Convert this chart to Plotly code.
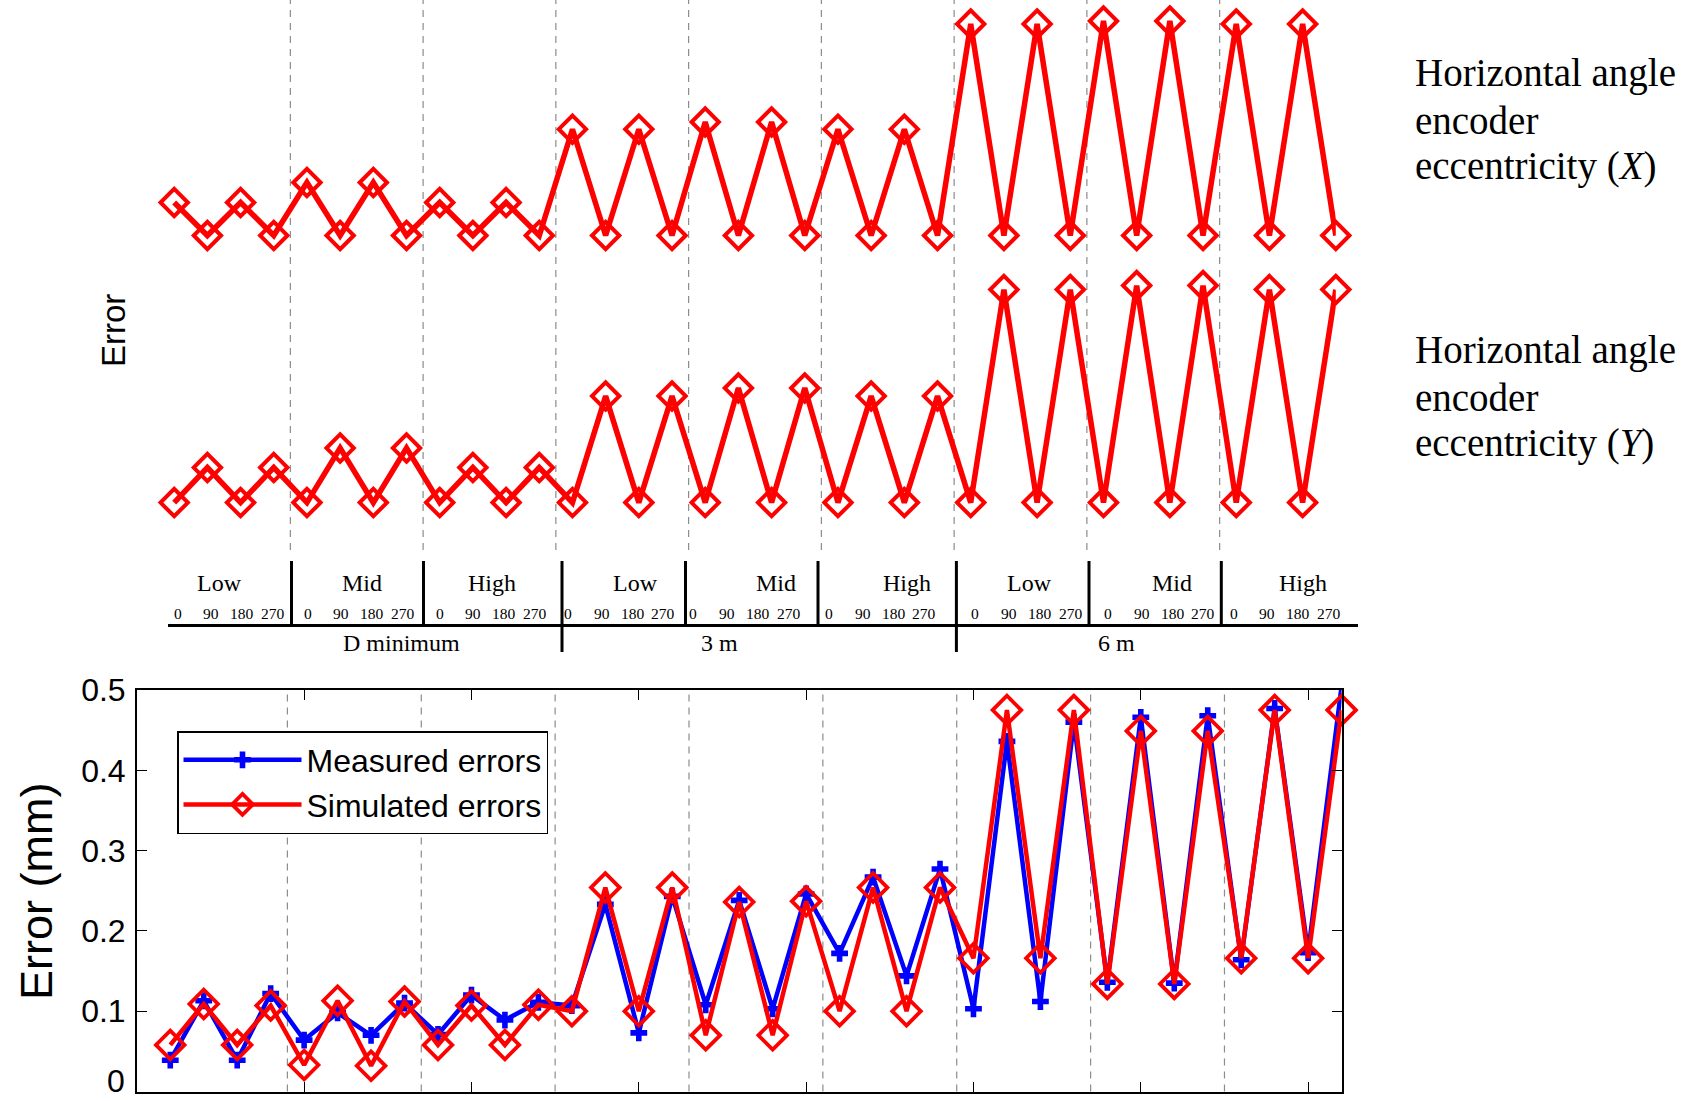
import plotly.graph_objects as go

W, H = 1702, 1101

# ---------------- data ----------------
idx = list(range(1, 37))

# top panel (arbitrary units): horizontal angle encoder eccentricity effects
ecc_x = [0.33, 0, 0.33, 0, 0.53, 0, 0.53, 0, 0.33, 0, 0.33, 0,
         1.063, 0, 1.063, 0, 1.135, 0, 1.135, 0, 1.063, 0, 1.063, 0,
         2.115, 0, 2.115, 0, 2.145, 0, 2.145, 0, 2.115, 0, 2.115, 0]
ecc_y = [0, 0.35, 0, 0.35, 0, 0.545, 0, 0.545, 0, 0.35, 0, 0.35,
         0, 1.065, 0, 1.065, 0, 1.145, 0, 1.145, 0, 1.065, 0, 1.065,
         0, 2.13, 0, 2.13, 0, 2.17, 0, 2.17, 0, 2.13, 0, 2.13]
X_OFFSET = 2.671

# bottom panel (mm)
measured = [0.039, 0.113, 0.039, 0.122, 0.064, 0.098, 0.070, 0.110, 0.071, 0.120, 0.089, 0.111,
            0.107, 0.233, 0.073, 0.243, 0.108, 0.238, 0.103, 0.246, 0.172, 0.267, 0.144, 0.277,
            0.103, 0.436, 0.112, 0.460, 0.136, 0.466, 0.135, 0.468, 0.164, 0.477, 0.173, 0.505]
simulated = [0.058, 0.109, 0.058, 0.107, 0.033, 0.113, 0.032, 0.112, 0.058, 0.107, 0.058, 0.108,
             0.100, 0.254, 0.100, 0.254, 0.070, 0.236, 0.070, 0.237, 0.100, 0.254, 0.100, 0.254,
             0.166, 0.475, 0.166, 0.475, 0.134, 0.449, 0.134, 0.449, 0.166, 0.475, 0.166, 0.475]

group_labels = ["Low", "Mid", "High", "Low", "Mid", "High", "Low", "Mid", "High"]
angle_labels = ["0", "90", "180", "270"]
distance_labels = ["D minimum", "3 m", "6 m"]
yticks = [0, 0.1, 0.2, 0.3, 0.4, 0.5]
ytick_text = ["0", "0.1", "0.2", "0.3", "0.4", "0.5"]
xticks = [0, 5, 10, 15, 20, 25, 30, 35]
group_bounds = [4.5, 8.5, 12.5, 16.5, 20.5, 24.5, 28.5, 32.5]


def px_x(p):
    return p / W


def px_y(p):
    return 1 - p / H


RED = "#FF0000"
BLUE = "#0000FF"
SANS = "Liberation Sans"
SERIF = "Liberation Serif"

fig = go.Figure()

# top panel traces
for vals in ([v + X_OFFSET for v in ecc_x], ecc_y):
    fig.add_trace(go.Scatter(
        x=idx, y=vals, xaxis="x2", yaxis="y2",
        mode="lines+markers", showlegend=False, hoverinfo="skip", cliponaxis=False,
        line=dict(color=RED, width=5.5),
        marker=dict(symbol="diamond-open", size=21, color=RED, line=dict(width=4, color=RED))))

# bottom panel traces
fig.add_trace(go.Scatter(
    x=idx, y=measured, name="Measured errors", mode="lines+markers",
    line=dict(color=BLUE, width=4.5),
    marker=dict(symbol="cross", size=14, color=BLUE, line=dict(width=0))))
fig.add_trace(go.Scatter(
    x=idx, y=simulated, name="Simulated errors", mode="lines+markers", cliponaxis=False,
    line=dict(color=RED, width=4.5),
    marker=dict(symbol="diamond-open", size=22, color=RED, line=dict(width=3.8, color=RED))))

shapes = []
# dashed group separators
for b in group_bounds:
    shapes.append(dict(type="line", xref="x", yref="y domain", x0=b, x1=b, y0=0, y1=1,
                       line=dict(color="#8c8c8c", width=1.2, dash="7px,6px"), layer="below"))
    shapes.append(dict(type="line", xref="x2", yref="paper", x0=b, x1=b, y0=px_y(550), y1=1,
                       line=dict(color="#8c8c8c", width=1.2, dash="7px,6px"), layer="below"))

# table lines
shapes.append(dict(type="line", xref="paper", yref="paper", x0=px_x(168), x1=px_x(1358),
                   y0=px_y(625.5), y1=px_y(625.5), line=dict(color="black", width=3)))
sep_px = [291.5, 423.5, 562, 685.5, 818, 956.4, 1089, 1221.3]
long_sep = {562, 956.4}
for s in sep_px:
    bottom = 652 if s in long_sep else 625.5
    shapes.append(dict(type="line", xref="paper", yref="paper", x0=px_x(s), x1=px_x(s),
                       y0=px_y(561), y1=px_y(bottom), line=dict(color="black", width=3)))

annotations = []
group_px = [220, 362, 491.5, 635, 776, 906.5, 1029, 1172, 1302.5]
for lab, gx in zip(group_labels, group_px):
    annotations.append(dict(text=lab, x=px_x(gx), y=px_y(583), xref="paper", yref="paper",
                            showarrow=False, xanchor="center", yanchor="middle",
                            font=dict(family=SERIF, size=24, color="black")))
zero_px = [177.6, 307.7, 439.7, 567.9, 693.4, 829, 975.4, 1107.9, 1233.6]
ang_off = [0, 33.6, 64.6, 95.2]
for z in zero_px:
    for lab, off in zip(angle_labels, ang_off):
        annotations.append(dict(text=lab, x=px_x(z + off), y=px_y(613), xref="paper", yref="paper",
                                showarrow=False, xanchor="center", yanchor="middle",
                                font=dict(family=SERIF, size=15.5, color="black")))
dist_px = [401, 719, 1116]
for lab, dx in zip(distance_labels, dist_px):
    annotations.append(dict(text=lab, x=px_x(dx), y=px_y(643), xref="paper", yref="paper",
                            showarrow=False, xanchor="center", yanchor="middle",
                            font=dict(family=SERIF, size=24, color="black")))

# right-hand descriptions
desc = [("Horizontal angle", 73), ("encoder", 120), ("eccentricity (<i>X</i>)", 166),
        ("Horizontal angle", 350), ("encoder", 397), ("eccentricity (<i>Y</i>)", 443)]
for t, yy in desc:
    annotations.append(dict(text=t, x=px_x(1413), y=px_y(yy), xref="paper", yref="paper",
                            showarrow=False, xanchor="left", yanchor="middle",
                            font=dict(family=SERIF, size=39, color="black")))

# top panel axis label
annotations.append(dict(text="Error", x=px_x(113), y=px_y(330), xref="paper", yref="paper",
                        showarrow=False, textangle=-90, xanchor="center", yanchor="middle",
                        font=dict(family=SANS, size=33, color="black")))
# bottom axis label
annotations.append(dict(text="Error (mm)", x=px_x(36), y=px_y(892), xref="paper", yref="paper",
                        showarrow=False, textangle=-90, xanchor="center", yanchor="middle",
                        font=dict(family=SANS, size=45, color="black")))
# "0" tick label of the bottom axis, kept just inside the page edge
annotations.append(dict(text=ytick_text[0], x=px_x(126), y=px_y(1100), xref="paper", yref="paper",
                        showarrow=False, xanchor="right", yanchor="bottom", borderpad=0,
                        font=dict(family=SANS, size=32, color="black")))

fig.update_layout(
    width=W, height=H,
    margin=dict(l=0, r=0, t=0, b=0, pad=0, autoexpand=False),
    paper_bgcolor="white", plot_bgcolor="white",
    showlegend=True,
    legend=dict(x=px_x(177), y=px_y(731), xanchor="left", yanchor="top",
                bgcolor="white", bordercolor="black", borderwidth=1.5,
                font=dict(family=SANS, size=32, color="black"),
                itemwidth=118, tracegroupgap=0),
    xaxis=dict(domain=[px_x(136.8), px_x(1341.6)], range=[0, 36], anchor="y",
               tickmode="array", tickvals=xticks, showticklabels=False,
               ticks="inside", ticklen=10, tickcolor="black", tickwidth=1.2,
               showline=True, linecolor="black", linewidth=1.5, mirror="ticks",
               showgrid=False, zeroline=False, automargin=False),
    yaxis=dict(domain=[px_y(1091.5), px_y(690)], range=[0, 0.5], anchor="x",
               tickmode="array", tickvals=yticks, ticktext=[""] + ytick_text[1:],
               ticks="inside", ticklen=10, tickcolor="black", tickwidth=1.2,
               showline=True, linecolor="black", linewidth=1.5, mirror="ticks",
               showgrid=False, zeroline=False, ticklabelstandoff=3,
               ticklabeloverflow="allow", automargin=False,
               tickfont=dict(family=SANS, size=32, color="black")),
    xaxis2=dict(domain=[px_x(141.0), px_x(1335.8)], range=[0, 36], anchor="y2", visible=False),
    yaxis2=dict(domain=[px_y(553), 1], range=[-0.504, 5.026], anchor="x2", visible=False),
    shapes=shapes,
    annotations=annotations,
)

fig.write_html("out.html")
